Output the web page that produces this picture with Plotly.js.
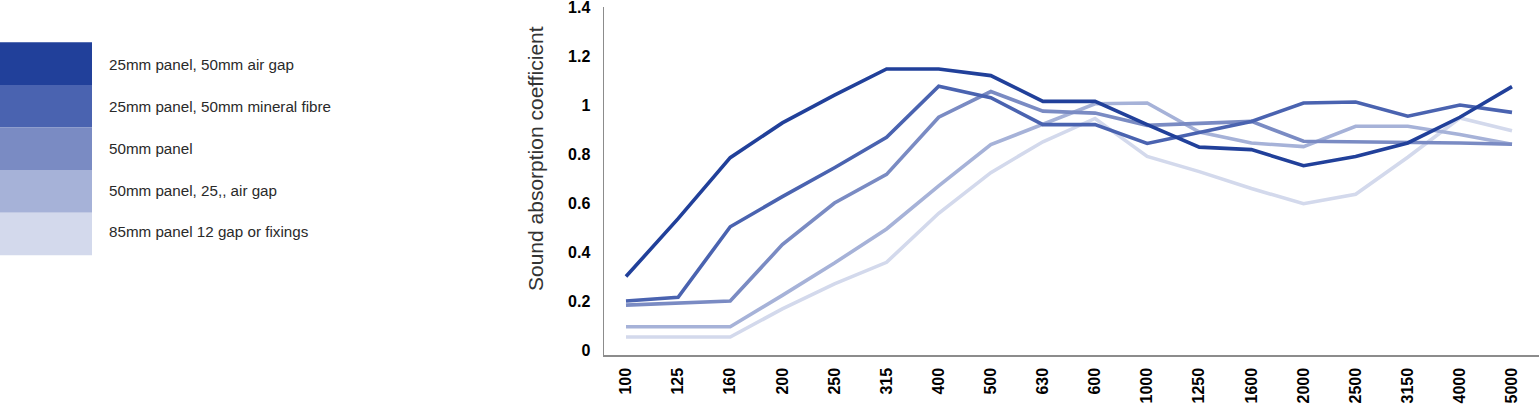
<!DOCTYPE html>
<html>
<head>
<meta charset="utf-8">
<script src="https://cdn.plot.ly/plotly-3.0.1.min.js"></script>
<style>
  html, body { margin: 0; padding: 0; background: #fff; }
  #chart { width: 1539px; height: 410px; }
</style>
</head>
<body>
<div id="chart"></div>
<script>
// ---- data ----
const frequencies = ['100','125','160','200','250','315','400','500','630','600','1000','1250','1600','2000','2500','3150','4000','5000'];
const seriesNames = [
  '25mm panel, 50mm air gap',
  '25mm panel, 50mm mineral fibre',
  '50mm panel',
  '50mm panel, 25,, air gap',
  '85mm panel 12 gap or fixings'
];
const panel25Air50   = [0.30, 0.536, 0.785, 0.927, 1.04, 1.147, 1.147, 1.12, 1.015, 1.015, 0.92, 0.828, 0.818, 0.752, 0.79, 0.845, 0.95, 1.075];
const panel25Fibre50 = [0.20, 0.215, 0.503, 0.626, 0.744, 0.868, 1.077, 1.03, 0.92, 0.92, 0.843, 0.888, 0.933, 1.008, 1.012, 0.954, 1.0, 0.97];
const panel50        = [0.183, 0.19, 0.20, 0.43, 0.60, 0.717, 0.95, 1.055, 0.975, 0.967, 0.917, 0.925, 0.933, 0.852, 0.85, 0.848, 0.845, 0.84];
const panel50Air25   = [0.095, 0.095, 0.095, 0.223, 0.355, 0.494, 0.67, 0.838, 0.923, 1.005, 1.008, 0.89, 0.845, 0.83, 0.913, 0.913, 0.88, 0.84];
const panel85NoGap   = [0.053, 0.053, 0.053, 0.168, 0.27, 0.358, 0.558, 0.724, 0.85, 0.945, 0.79, 0.728, 0.659, 0.597, 0.636, 0.787, 0.947, 0.895];
const seriesValues = [panel25Air50, panel25Fibre50, panel50, panel50Air25, panel85NoGap];
const yTicks = [0, 0.2, 0.4, 0.6, 0.8, 1, 1.2, 1.4];

// ---- styles ----
const colors = ['#21409a', '#4a63b0', '#7a8bc3', '#a6b2d8', '#d3d9ec'];
const W = 1539, H = 410;
const plotL = 604, plotR = 1539, plotT = 7, plotB = 355;
const px2x = p => (p - plotL) / (plotR - plotL);
const px2y = p => (plotB - p) / (plotB - plotT);
const FONT = 'Liberation Sans, Arial, sans-serif';

// draw lightest first so darker lines are on top
const traces = [];
for (let i = seriesValues.length - 1; i >= 0; i--) {
  traces.push({
    type: 'scatter', mode: 'lines',
    x: frequencies, y: seriesValues[i], name: seriesNames[i],
    line: { color: colors[i], width: 3.6 },
    showlegend: false, hoverinfo: 'skip'
  });
}

// legend built from the names/colours
const shapes = [], annotations = [];
const rowTop = 42.3, rowH = 42.6, swatchW = 92;
const textTop = 65, textStep = 41.7;
seriesNames.forEach((name, i) => {
  const y0 = rowTop + i * rowH, y1 = y0 + rowH;
  shapes.push({
    type: 'rect', xref: 'paper', yref: 'paper',
    x0: px2x(0), x1: px2x(swatchW), y0: px2y(y1), y1: px2y(y0),
    fillcolor: colors[i], line: { width: 0 }, layer: 'above'
  });
  annotations.push({
    xref: 'paper', yref: 'paper', x: px2x(107), y: px2y(textTop + i * textStep),
    xanchor: 'left', yanchor: 'middle', showarrow: false, text: name,
    font: { family: FONT, size: 15.2, color: '#2a2a2a' }
  });
});
annotations.push({
  xref: 'paper', yref: 'paper', x: px2x(535), y: px2y(159),
  xanchor: 'center', yanchor: 'middle', showarrow: false, textangle: -90,
  text: 'Sound absorption coefficient',
  font: { family: FONT, size: 21, color: '#333' }
});

const layout = {
  width: W, height: H,
  margin: { l: plotL, r: W - plotR, t: plotT, b: H - plotB, pad: 0 },
  paper_bgcolor: '#fff', plot_bgcolor: '#fff',
  showlegend: false,
  xaxis: {
    type: 'category', categoryorder: 'array', categoryarray: frequencies,
    range: [-0.422, 17.518], showgrid: false, zeroline: false,
    showline: true, linecolor: '#8c8c8c', linewidth: 1.5,
    ticks: '', tickangle: -90, ticklabelstandoff: 5,
    tickfont: { family: FONT, size: 16, color: '#000', weight: 'bold' }
  },
  yaxis: {
    range: [-0.0204, 1.4], tickvals: yTicks, showgrid: false, zeroline: false,
    showline: true, linecolor: '#8c8c8c', linewidth: 1.5,
    ticks: '', ticklabelstandoff: 9, ticklabeloverflow: 'allow',
    tickfont: { family: FONT, size: 16, color: '#000', weight: 'bold' }
  },
  shapes: shapes,
  annotations: annotations
};

Plotly.newPlot('chart', traces, layout, { staticPlot: true, displayModeBar: false });
</script>
</body>
</html>
